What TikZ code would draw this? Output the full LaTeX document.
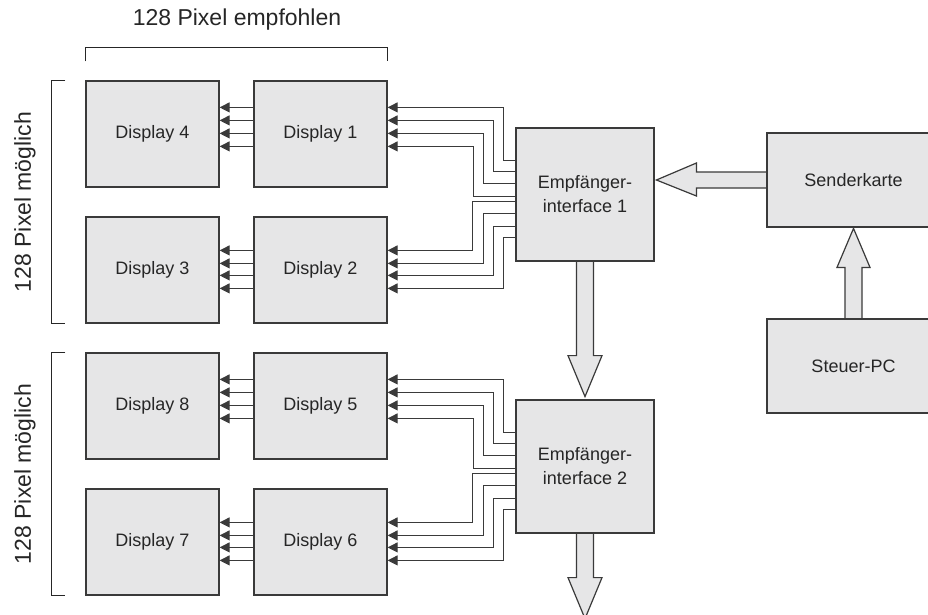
\documentclass[tikz,border=0pt]{standalone}
\usepackage{fontspec}
\setmainfont{Liberation Sans}
\usetikzlibrary{arrows.meta,backgrounds}

\definecolor{boxgray}{HTML}{E6E6E7}
\definecolor{linegray}{HTML}{3A3A3A}

\begin{document}
\begin{tikzpicture}[x=1pt, y=-1pt,
    unit/.style={draw=linegray, fill=boxgray, line width=1.2pt, inner sep=0pt,
        align=center, text=black!85, font=\fontsize{18}{24}\selectfont},
    display/.style={unit, minimum width=133pt, minimum height=106pt},
    recv/.style={unit, minimum width=138pt, minimum height=133pt},
    host/.style={unit, minimum width=173pt, minimum height=94pt},
    sig/.style={draw=linegray, line width=1pt, -{Triangle[length=10pt,width=10pt]}},
    fat/.style={draw=linegray, fill=boxgray, line width=1.2pt},
    brk/.style={draw=black!85, line width=1.5pt},
    lbl/.style={text=black!85, font=\fontsize{23}{27}\selectfont}]
    \useasboundingbox (0,0) rectangle (928,614);

    % Displays
    \node[display] (d4) at (152.5,134) {Display 4};
    \node[display] (d1) at (320.5,134) {Display 1};
    \node[display] (d3) at (152.5,270) {Display 3};
    \node[display] (d2) at (320.5,270) {Display 2};
    \node[display] (d8) at (152.5,406) {Display 8};
    \node[display] (d5) at (320.5,406) {Display 5};
    \node[display] (d7) at (152.5,542) {Display 7};
    \node[display] (d6) at (320.5,542) {Display 6};

    % Receivers, sender card and PC
    \node[recv] (if1) at (585,194.5) {Empfänger-\\interface 1};
    \node[recv] (if2) at (585,466.5) {Empfänger-\\interface 2};
    \node[host] (sk) at (853.5,180) {Senderkarte};
    \node[host] (pc) at (853.5,366) {Steuer-PC};

    % Labels
    \node[lbl] (top) at (237,20) {128 Pixel empfohlen};
    \node[lbl, rotate=90] (side1) at (25,202) {128 Pixel möglich};
    \node[lbl, rotate=90] (side2) at (25,474) {128 Pixel möglich};

    % Brackets
    \draw[brk] ([yshift=19pt]d4.north west) -- ++(0,-14) -| ([yshift=19pt]d1.north east);
    \draw[brk] ([xshift=-20pt]d4.north west) -- ++(-14,0) |- ([xshift=-20pt]d3.south west);
    \draw[brk] ([xshift=-20pt]d8.north west) -- ++(-14,0) |- ([xshift=-20pt]d7.south west);

    % Signal lines to the upper display pair
    \foreach \rx/\da/\db in {if1/d1/d4, if2/d5/d8}
        \foreach \e/\v/\a in {33/12/27, 44/22/40, 56/32/53, 69/42/66} {
            \draw[sig] ([yshift=-\e pt]\rx.north west) -- ++(-\v,0) |- ([yshift=-\a pt]\da.north east);
            \draw[sig] ([yshift=-\a pt]\da.north west) -- ([yshift=-\a pt]\db.north east);
        }

    % Signal lines to the lower display pair
    \foreach \rx/\da/\db in {if1/d2/d3, if2/d6/d7}
        \foreach \e/\v/\a in {74/43/34, 86/32/47, 99/22/59, 110/12/72} {
            \draw[sig] ([yshift=-\e pt]\rx.north west) -- ++(-\v,0) |- ([yshift=-\a pt]\da.north east);
            \draw[sig] ([yshift=-\a pt]\da.north west) -- ([yshift=-\a pt]\db.north east);
        }

    % Wide data arrows
    \begin{scope}[on background layer]
        \filldraw[fat] ([yshift=8pt]sk.west) -- ++(-70,0) -- ++(0,-9) -- ++(-40,17)
            -- ++(40,16) -- ++(0,-8) -- ++(70,0);
        \filldraw[fat] ([xshift=-8.5pt]if1.south) -- ++(0,94) -- ++(-8.5,0) -- ++(17,41)
            -- ++(17,-41) -- ++(-8.5,0) -- ++(0,-94);
        \filldraw[fat] ([xshift=-8.5pt]if2.south) -- ++(0,44) -- ++(-8.5,0) -- ++(17,41)
            -- ++(17,-41) -- ++(-8.5,0) -- ++(0,-44);
        \filldraw[fat] ([xshift=-8.5pt]pc.north) -- ++(0,-51) -- ++(-8,0) -- ++(16.5,-39)
            -- ++(16.5,39) -- ++(-8,0) -- ++(0,51);
    \end{scope}
\end{tikzpicture}
\end{document}
